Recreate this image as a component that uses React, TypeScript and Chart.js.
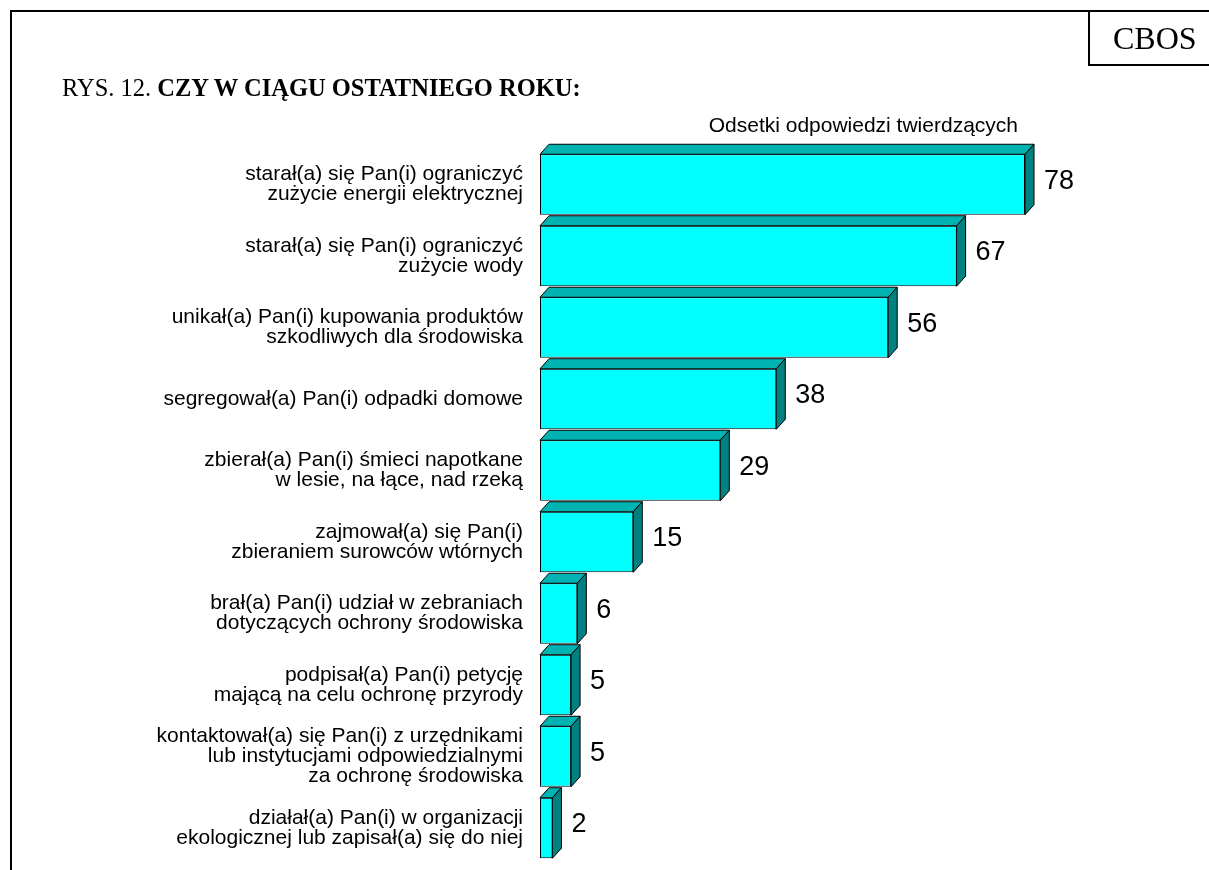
import React, { useEffect, useRef } from "react";
import { Chart, registerables } from "chart.js";

Chart.register(...registerables);

const categories: string[][] = [
  ["starał(a) się Pan(i) ograniczyć", "zużycie energii elektrycznej"],
  ["starał(a) się Pan(i) ograniczyć", "zużycie wody"],
  ["unikał(a) Pan(i) kupowania produktów", "szkodliwych dla środowiska"],
  ["segregował(a) Pan(i) odpadki domowe"],
  ["zbierał(a) Pan(i) śmieci napotkane", "w lesie, na łące, nad rzeką"],
  ["zajmował(a) się Pan(i)", "zbieraniem surowców wtórnych"],
  ["brał(a) Pan(i) udział w zebraniach", "dotyczących ochrony środowiska"],
  ["podpisał(a) Pan(i) petycję", "mającą na celu ochronę przyrody"],
  ["kontaktował(a) się Pan(i) z urzędnikami", "lub instytucjami odpowiedzialnymi", "za ochronę środowiska"],
  ["działał(a) Pan(i) w organizacji", "ekologicznej lub zapisał(a) się do niej"],
];

const yesPercent: number[] = [78, 67, 56, 38, 29, 15, 6, 5, 5, 2];

const titlePrefix = "RYS. 12. ";
const titleBold = "CZY W CIĄGU OSTATNIEGO ROKU:";
const seriesTitle = "Odsetki odpowiedzi twierdzących";
const sourceLabel = "CBOS";

const SANS = "'Liberation Sans', Arial, sans-serif";
const SERIF = "'Liberation Serif', 'Times New Roman', serif";

const DX = 9;
const DY = 10;

const bar3d = {
  id: "bar3d",
  afterDatasetsDraw(chart: any) {
    const meta = chart.getDatasetMeta(0);
    const ctx = chart.ctx as CanvasRenderingContext2D;
    ctx.save();
    ctx.lineWidth = 1;
    ctx.strokeStyle = "#000000";
    ctx.lineJoin = "miter";
    meta.data.forEach((bar: any, i: number) => {
      const p = bar.getProps(["x", "y", "base", "height"], true);
      const x0 = p.base;
      const x1 = p.x;
      const yT = p.y - p.height / 2;
      const yB = p.y + p.height / 2;
      // top face
      ctx.beginPath();
      ctx.moveTo(x0, yT);
      ctx.lineTo(x0 + DX, yT - DY);
      ctx.lineTo(x1 + DX, yT - DY);
      ctx.lineTo(x1, yT);
      ctx.closePath();
      ctx.fillStyle = "#00B3B3";
      ctx.fill();
      ctx.stroke();
      // side face
      ctx.beginPath();
      ctx.moveTo(x1, yT);
      ctx.lineTo(x1 + DX, yT - DY);
      ctx.lineTo(x1 + DX, yB - DY);
      ctx.lineTo(x1, yB);
      ctx.closePath();
      ctx.fillStyle = "#008080";
      ctx.fill();
      ctx.stroke();
      // value label
      ctx.fillStyle = "#000000";
      ctx.font = `27px ${SANS}`;
      ctx.textAlign = "left";
      ctx.textBaseline = "middle";
      ctx.fillText(String(yesPercent[i]), x1 + 19, p.y - 3);
    });
    ctx.restore();
  },
};

export default function App() {
  const canvasRef = useRef<HTMLCanvasElement | null>(null);

  useEffect(() => {
    if (!canvasRef.current) return;
    const chart = new Chart(canvasRef.current, {
      type: "bar",
      data: {
        labels: categories,
        datasets: [
          {
            data: yesPercent,
            backgroundColor: "#00FFFF",
            borderColor: "#000000",
            borderWidth: 1,
            borderSkipped: false,
            barPercentage: 0.846,
            categoryPercentage: 1,
          },
        ],
      },
      options: {
        indexAxis: "y",
        responsive: false,
        animation: false,
        events: [],
        layout: { padding: { left: 0, right: 47.2, top: 148.75, bottom: 6.25 } },
        plugins: {
          legend: { display: false },
          tooltip: { enabled: false },
          title: { display: false },
        },
        scales: {
          x: { display: false, min: 0, max: 100 },
          y: {
            afterFit(scale: any) {
              scale.width = 540;
              scale.paddingTop = 0;
              scale.paddingBottom = 0;
            },
            grid: { display: false, drawTicks: false },
            border: { display: false },
            ticks: {
              padding: 17,
              color: "#000000",
              font: { family: SANS, size: 21, lineHeight: 0.96 },
              autoSkip: false,
            },
          },
        },
      },
      plugins: [bar3d],
    } as any);
    return () => chart.destroy();
  }, []);

  return (
    <div
      style={{
        position: "fixed",
        left: 0,
        top: 0,
        width: 1209,
        height: 870,
        overflow: "hidden",
        background: "#ffffff",
      }}
    >
      <canvas
        ref={canvasRef}
        width={1209}
        height={870}
        style={{ position: "absolute", left: 0, top: 0, width: 1209, height: 870 }}
      />
      <div
        style={{
          position: "absolute",
          left: 10,
          top: 10,
          width: 1250,
          height: 900,
          borderTop: "2px solid #000",
          borderLeft: "2px solid #000",
          pointerEvents: "none",
        }}
      />
      <div
        style={{
          position: "absolute",
          left: 1088,
          top: 10,
          width: 140,
          height: 56,
          boxSizing: "border-box",
          border: "2px solid #000",
        }}
      />
      <div
        style={{
          position: "absolute",
          left: 1113,
          top: 22,
          font: `32px ${SERIF}`,
          lineHeight: "32px",
          whiteSpace: "nowrap",
          color: "#000",
        }}
      >
        {sourceLabel}
      </div>
      <div
        style={{
          position: "absolute",
          left: 62,
          top: 76,
          font: `24.5px ${SERIF}`,
          lineHeight: "24px",
          whiteSpace: "nowrap",
          color: "#000",
        }}
      >
        {titlePrefix}
        <b>{titleBold}</b>
      </div>
      <div
        style={{
          position: "absolute",
          right: 191,
          top: 114,
          font: `21px ${SANS}`,
          lineHeight: "21px",
          whiteSpace: "nowrap",
          color: "#000",
        }}
      >
        {seriesTitle}
      </div>
    </div>
  );
}
